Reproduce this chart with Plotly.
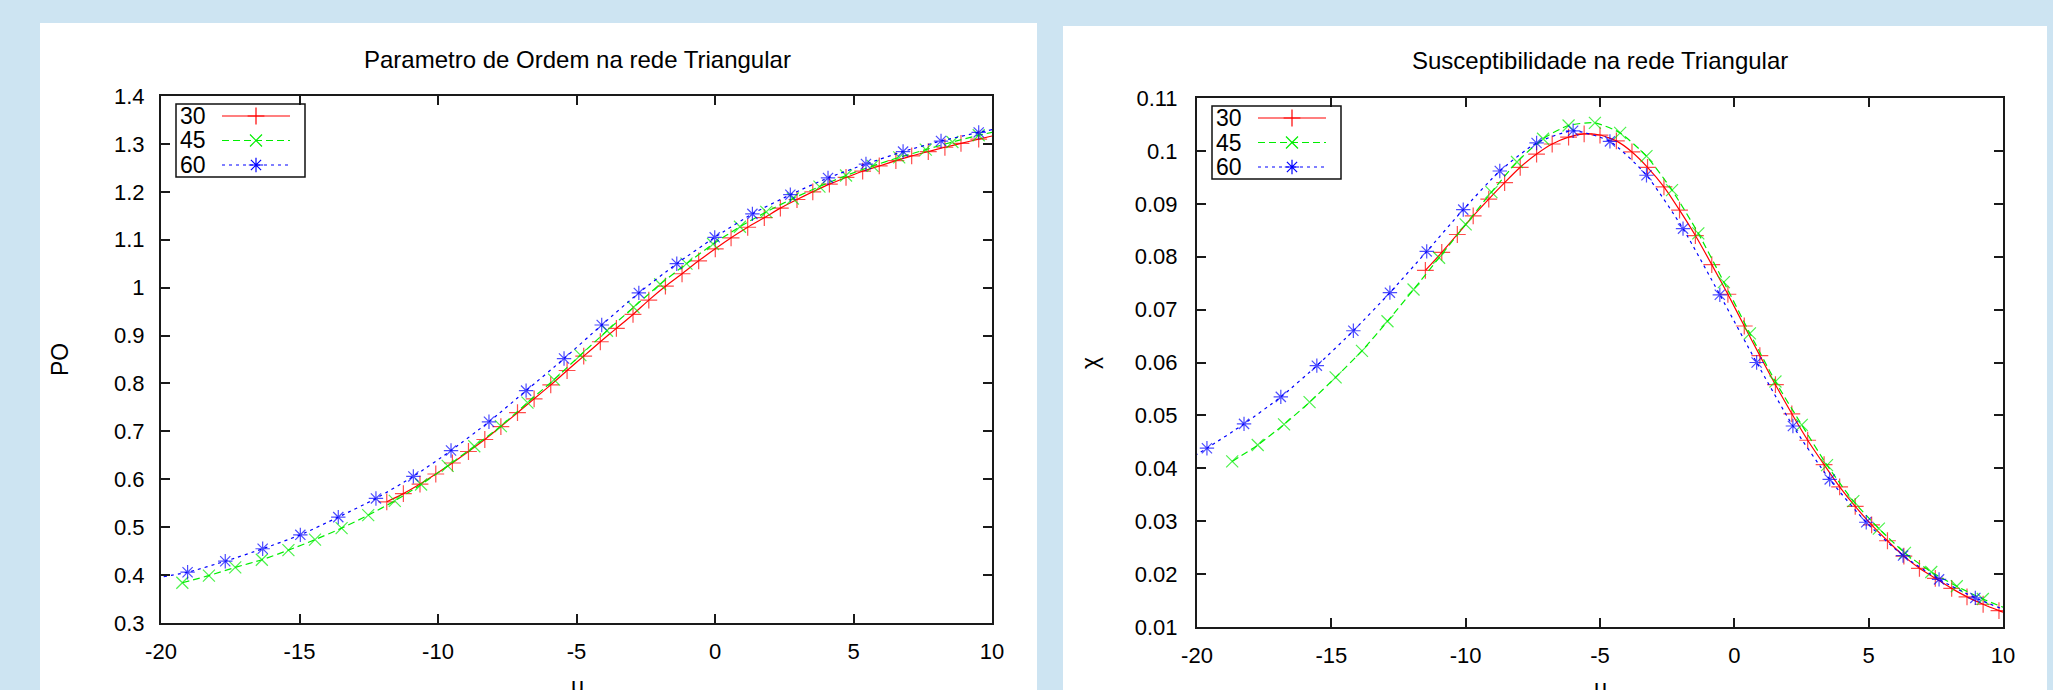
import plotly.graph_objects as go

# ---------------- data ----------------
# Parametro de Ordem (left panel)
po_30_x = [-11.85, -11.25, -10.65, -10.08, -9.48, -8.90, -8.31, -7.73, -7.13, -6.53, -5.93, -5.34, -4.74,
           -4.14, -3.56, -2.96, -2.39, -1.79, -1.19, -0.59, 0.01, 0.58, 1.18, 1.78, 2.36, 2.96, 3.53, 4.13,
           4.73, 5.33, 5.93, 6.53, 7.10, 7.70, 8.30, 8.88, 9.52, 10.11]
po_30_y = [0.553, 0.570, 0.590, 0.611, 0.634, 0.658, 0.683, 0.710, 0.739, 0.768, 0.797, 0.827, 0.857,
           0.887, 0.915, 0.944, 0.974, 1.003, 1.029, 1.056, 1.081, 1.104, 1.126, 1.146, 1.166, 1.184, 1.200, 1.216,
           1.230, 1.243, 1.254, 1.265, 1.275, 1.284, 1.293, 1.301, 1.310, 1.318]

po_45_x = [-19.23, -18.27, -17.32, -16.36, -15.40, -14.44, -13.48, -12.52, -11.56, -10.61, -9.65, -8.69,
           -7.73, -6.77, -5.81, -4.86, -3.90, -2.94, -1.98, -1.03, -0.07, 0.90, 1.85, 2.81, 3.77, 4.73, 5.69,
           6.65, 7.61, 8.57, 9.52, 10.48]
po_45_y = [0.384, 0.399, 0.416, 0.432, 0.452, 0.474, 0.498, 0.525, 0.555, 0.589, 0.628, 0.669,
           0.711, 0.760, 0.808, 0.859, 0.910, 0.959, 1.007, 1.050, 1.091, 1.127, 1.158, 1.186, 1.211, 1.234, 1.254,
           1.272, 1.288, 1.304, 1.318, 1.330]

po_60_x = [-20.40, -19.04, -17.68, -16.33, -14.97, -13.60, -12.24, -10.89, -9.53, -8.16, -6.82, -5.45,
           -4.09, -2.75, -1.38, -0.01, 1.35, 2.72, 4.08, 5.45, 6.79, 8.16, 9.52, 10.88]
po_60_y = [0.392, 0.406, 0.429, 0.455, 0.484, 0.521, 0.560, 0.606, 0.660, 0.720, 0.785, 0.852,
           0.922, 0.989, 1.050, 1.105, 1.154, 1.194, 1.229, 1.258, 1.284, 1.306, 1.324, 1.340]

# Susceptibilidade (right panel)
chi_30_x = [-11.50, -10.89, -10.31, -9.72, -9.14, -8.55, -7.97, -7.36, -6.78, -6.17, -5.59, -5.00, -4.39,
            -3.81, -3.23, -2.62, -2.04, -1.45, -0.84, -0.24, 0.37, 0.95, 1.53, 2.14, 2.73, 3.34, 3.92, 4.50,
            5.11, 5.70, 6.31, 6.89, 7.48, 8.09, 8.66, 9.26, 9.85, 10.45]
chi_30_y = [0.0774, 0.0808, 0.0842, 0.0877, 0.0909, 0.0940, 0.0969, 0.0994, 0.1013, 0.1026, 0.1032, 0.1030,
            0.1019, 0.0998, 0.0969, 0.0932, 0.0888, 0.0840, 0.0785, 0.0729, 0.0669, 0.0613, 0.0558, 0.0503,
            0.0453, 0.0407, 0.0365, 0.0328, 0.0293, 0.0263, 0.0234, 0.0211, 0.0192, 0.0173, 0.0157, 0.0143,
            0.0131, 0.0120]

chi_45_x = [-18.69, -17.74, -16.76, -15.81, -14.84, -13.86, -12.91, -11.94, -10.99, -10.00, -9.04, -8.09,
            -7.12, -6.17, -5.19, -4.25, -3.27, -2.32, -1.34, -0.39, 0.58, 1.53, 2.51, 3.45, 4.43, 5.38, 6.35,
            7.33, 8.28, 9.25, 10.22]
chi_45_y = [0.0413, 0.0444, 0.0483, 0.0525, 0.0572, 0.0622, 0.0678, 0.0738, 0.0798, 0.0861, 0.0922, 0.0979,
            0.1023, 0.1048, 0.1053, 0.1034, 0.0990, 0.0926, 0.0844, 0.0752, 0.0655, 0.0564, 0.0482, 0.0406,
            0.0338, 0.0286, 0.0240, 0.0204, 0.0177, 0.0153, 0.0133]

chi_60_x = [-20.99, -19.63, -18.25, -16.88, -15.54, -14.18, -12.82, -11.45, -10.09, -8.73, -7.36, -6.00,
            -4.63, -3.27, -1.91, -0.54, 0.83, 2.18, 3.55, 4.91, 6.28, 7.62, 8.97, 10.33]
chi_60_y = [0.0397, 0.0438, 0.0484, 0.0535, 0.0594, 0.0660, 0.0732, 0.0810, 0.0889, 0.0962, 0.1015, 0.1038,
            0.1018, 0.0954, 0.0853, 0.0728, 0.0600, 0.0480, 0.0379, 0.0298, 0.0235, 0.0190, 0.0155, 0.0127]

series_names = ["30", "45", "60"]

x_tickvals = [-20, -15, -10, -5, 0, 5, 10]
x_ticktext = ["-20", "-15", "-10", "-5", "0", "5", "10"]
po_tickvals = [0.3, 0.4, 0.5, 0.6, 0.7, 0.8, 0.9, 1.0, 1.1, 1.2, 1.3, 1.4]
po_ticktext = ["0.3", "0.4", "0.5", "0.6", "0.7", "0.8", "0.9", "1", "1.1", "1.2", "1.3", "1.4"]
chi_tickvals = [0.01, 0.02, 0.03, 0.04, 0.05, 0.06, 0.07, 0.08, 0.09, 0.10, 0.11]
chi_ticktext = ["0.01", "0.02", "0.03", "0.04", "0.05", "0.06", "0.07", "0.08", "0.09", "0.1", "0.11"]

title_left = "Parametro de Ordem na rede Triangular"
title_right = "Susceptibilidade na rede Triangular"
ylabel_left = "PO"
ylabel_right = "χ"
xlabel = "μ"

# ---------------- styles ----------------
W, H = 2053, 690
BG = "#cde4f2"
FONT = "Liberation Sans"
styles = {
    "30": dict(color="#ff0000", dash="solid", symbol="cross-thin"),
    "45": dict(color="#00ee00", dash="7px,4px", symbol="x-thin"),
    "60": dict(color="#0000ff", dash="3px,4px", symbol="asterisk"),
}
MSIZE = 12
XR = [-20, 10]

def px(x):
    return x / W

def py(y):
    return 1 - y / H

# plot frames in pixels
L_FRAME = dict(x0=161, x1=992, y0=96, y1=623)
R_FRAME = dict(x0=1197, x1=2003, y0=98, y1=627)

fig = go.Figure()

def add_series(xs, ys, name, xa, ya):
    st = styles[name]
    sizes = [MSIZE if XR[0] <= v <= XR[1] else 0 for v in xs]
    fig.add_trace(go.Scatter(
        x=xs, y=ys, mode="lines+markers", name=name, xaxis=xa, yaxis=ya,
        line=dict(color=st["color"], width=1.2, dash=st["dash"], shape="spline", smoothing=0.6),
        marker=dict(symbol=st["symbol"], size=sizes, color=st["color"],
                    line=dict(color=st["color"], width=1.2)),
        showlegend=False, cliponaxis=True,
    ))

add_series(po_30_x, po_30_y, "30", "x", "y")
add_series(po_45_x, po_45_y, "45", "x", "y")
add_series(po_60_x, po_60_y, "60", "x", "y")
add_series(chi_30_x, chi_30_y, "30", "x2", "y2")
add_series(chi_45_x, chi_45_y, "45", "x2", "y2")
add_series(chi_60_x, chi_60_y, "60", "x2", "y2")

shapes = []
annotations = []

# white panels
shapes.append(dict(type="rect", xref="paper", yref="paper", x0=px(40), x1=px(1037), y0=-0.2, y1=py(23),
                   fillcolor="white", line=dict(width=0), layer="below"))
shapes.append(dict(type="rect", xref="paper", yref="paper", x0=px(1063), x1=px(2047), y0=-0.2, y1=py(26),
                   fillcolor="white", line=dict(width=0), layer="below"))

# custom legends (text left, sample right)
def add_legend(frame):
    bx0 = frame["x0"] + 15
    by0 = frame["y0"] + 8
    bx1 = bx0 + 129
    by1 = by0 + 73
    shapes.append(dict(type="rect", xref="paper", yref="paper", x0=px(bx0), x1=px(bx1), y0=py(by1), y1=py(by0),
                       line=dict(color="#111", width=1.5), fillcolor="rgba(0,0,0,0)", layer="above"))
    for i, nm in enumerate(series_names):
        ry = by0 + 12 + i * 24.5
        annotations.append(dict(text=nm, x=px(bx0 + 2), y=py(ry), xref="paper", yref="paper",
                                xanchor="left", yanchor="middle", showarrow=False,
                                font=dict(family=FONT, size=23, color="black")))
        st = styles[nm]
        lx0, lx1 = bx0 + 46, bx0 + 114
        fig.add_trace(go.Scatter(
            x=[lx0, (lx0 + lx1) / 2, lx1], y=[ry, ry, ry], mode="lines", xaxis="x3", yaxis="y3",
            line=dict(color=st["color"], width=1.2, dash=st["dash"]), showlegend=False, hoverinfo="skip"))
        fig.add_trace(go.Scatter(
            x=[(lx0 + lx1) / 2], y=[ry], mode="markers", xaxis="x3", yaxis="y3",
            marker=dict(symbol=st["symbol"], size=MSIZE, color=st["color"],
                        line=dict(color=st["color"], width=1.2)),
            showlegend=False, hoverinfo="skip"))

add_legend(L_FRAME)
add_legend(R_FRAME)

# titles & axis labels (x-axis label sits at the bottom edge, partly cut as in the original)
annotations += [
    dict(text=title_left, x=px(577), y=py(59), xref="paper", yref="paper", xanchor="center", yanchor="middle",
         showarrow=False, font=dict(family=FONT, size=24, color="black")),
    dict(text=title_right, x=px(1600), y=py(61), xref="paper", yref="paper", xanchor="center", yanchor="middle",
         showarrow=False, font=dict(family=FONT, size=24, color="black")),
    dict(text=ylabel_left, x=px(60), y=py(360), xref="paper", yref="paper", xanchor="center", yanchor="middle",
         textangle=-90, showarrow=False, font=dict(family=FONT, size=23, color="black")),
    dict(text=ylabel_right, x=px(1090), y=py(363), xref="paper", yref="paper", xanchor="center", yanchor="middle",
         textangle=-90, showarrow=False, font=dict(family=FONT, size=23, color="black")),
    dict(text=xlabel, x=px(577), y=py(686), xref="paper", yref="paper", xanchor="center", yanchor="middle",
         showarrow=False, font=dict(family=FONT, size=23, color="black")),
    dict(text=xlabel, x=px(1600), y=py(688), xref="paper", yref="paper", xanchor="center", yanchor="middle",
         showarrow=False, font=dict(family=FONT, size=23, color="black")),
]

axis_common = dict(showline=True, linecolor="#1a1a1a", linewidth=2, mirror="ticks", ticks="inside",
                   ticklen=9, tickwidth=1.5, tickcolor="#1a1a1a", showgrid=False, zeroline=False,
                   automargin=False, tickfont=dict(family=FONT, size=22, color="black"))

fig.update_layout(
    width=W, height=H, margin=dict(l=0, r=0, t=0, b=0, pad=0, autoexpand=False),
    autosize=False,
    paper_bgcolor=BG, plot_bgcolor="rgba(0,0,0,0)",
    showlegend=False,
    xaxis=dict(domain=[px(L_FRAME["x0"]), px(L_FRAME["x1"])], range=XR, anchor="y",
               tickvals=x_tickvals, ticktext=x_ticktext, ticklabelstandoff=8, **axis_common),
    yaxis=dict(domain=[py(L_FRAME["y1"]), py(L_FRAME["y0"])], range=[0.3, 1.4], anchor="x",
               tickvals=po_tickvals, ticktext=po_ticktext, ticklabelstandoff=10, **axis_common),
    xaxis2=dict(domain=[px(R_FRAME["x0"]), px(R_FRAME["x1"])], range=XR, anchor="y2",
                tickvals=x_tickvals, ticktext=x_ticktext, ticklabelstandoff=8, **axis_common),
    yaxis2=dict(domain=[py(R_FRAME["y1"]), py(R_FRAME["y0"])], range=[0.01, 0.11], anchor="x2",
                tickvals=chi_tickvals, ticktext=chi_ticktext, ticklabelstandoff=13, **axis_common),
    xaxis3=dict(domain=[0, 1], range=[0, W], anchor="y3", visible=False, fixedrange=True, automargin=False),
    yaxis3=dict(domain=[0, 1], range=[H, 0], anchor="x3", visible=False, fixedrange=True, automargin=False),
    shapes=shapes,
    annotations=annotations,
)

fig.write_html("out.html")
